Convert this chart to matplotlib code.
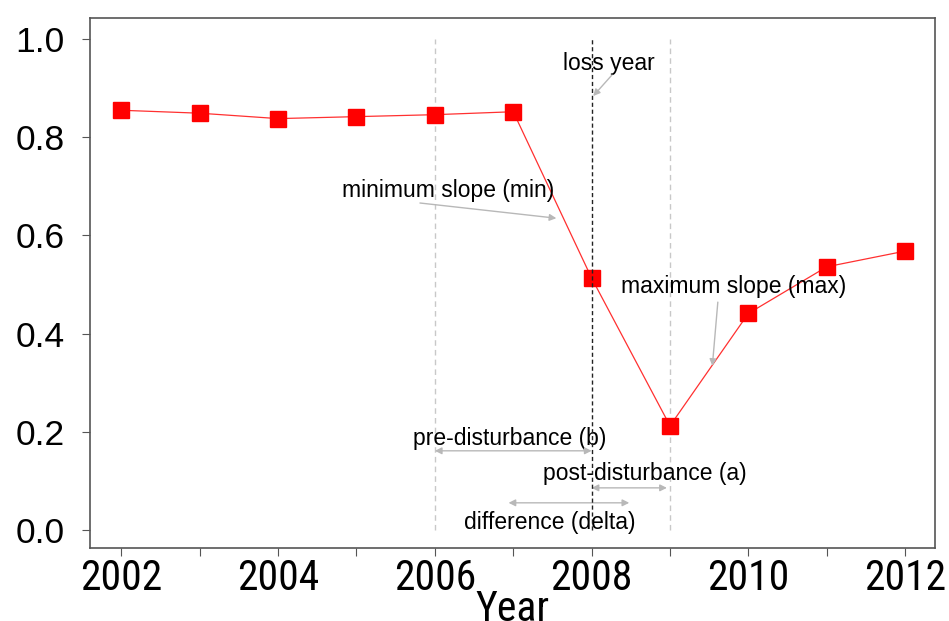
import matplotlib
matplotlib.use("Agg")
import matplotlib.pyplot as plt

years = [2002, 2003, 2004, 2005, 2006, 2007, 2008, 2009, 2010, 2011, 2012]
values = [0.855, 0.849, 0.838, 0.842, 0.846, 0.852, 0.513, 0.212, 0.441, 0.536, 0.568]
pre_year = 2006
loss_year = 2008
post_year = 2009
yticks = [0.0, 0.2, 0.4, 0.6, 0.8, 1.0]
xtick_labels = [2002, 2004, 2006, 2008, 2010, 2012]

narrow = ['Roboto Condensed', 'Liberation Sans', 'DejaVu Sans']
plt.rcParams['font.family'] = ['Liberation Sans', 'DejaVu Sans']

fig = plt.figure(figsize=(9.49, 6.21), dpi=100)
ax = fig.add_axes([0.0948, 0.1176, 0.8904, 0.8534])

ax.plot(years, values, color='#ff3030', lw=0.9, marker='s', ms=12,
        mfc='#ff0000', mec='#ff0000', zorder=3)

ax.vlines([pre_year, post_year], 0, 1, colors='#c8c8c8', linestyles=(0, (4, 3)), lw=1.0, zorder=1)
ax.vlines([loss_year], 0, 1, colors='#222222', linestyles=(0, (3, 2)), lw=1.0, zorder=4)

fs = 16.5
acol = '#b8b8b8'
aprops = dict(arrowstyle='-|>', color=acol, lw=1.0, mutation_scale=10, shrinkA=0, shrinkB=0)
dprops = dict(arrowstyle='<|-|>', color=acol, lw=1.0, mutation_scale=10, shrinkA=0, shrinkB=0)

ax.text(2008.22, 0.951, 'loss year', ha='center', va='center', fontsize=fs)
ax.annotate('', xy=(2008.02, 0.884), xytext=(2008.26, 0.927), arrowprops=aprops)

ax.text(2006.17, 0.692, 'minimum slope (min)', ha='center', va='center', fontsize=fs)
ax.annotate('', xy=(2007.55, 0.635), xytext=(2005.81, 0.666), arrowprops=aprops)

ax.text(2009.81, 0.495, 'maximum slope (max)', ha='center', va='center', fontsize=fs)
ax.annotate('', xy=(2009.54, 0.334), xytext=(2009.61, 0.464), arrowprops=aprops)

ax.text(2006.95, 0.187, 'pre-disturbance (b)', ha='center', va='center', fontsize=fs)
ax.annotate('', xy=(pre_year, 0.161), xytext=(loss_year, 0.161), arrowprops=dprops)

ax.text(2008.68, 0.114, 'post-disturbance (a)', ha='center', va='center', fontsize=fs)
ax.annotate('', xy=(loss_year, 0.0855), xytext=(2008.96, 0.0855), arrowprops=dprops)

ax.text(2007.46, 0.014, 'difference (delta)', ha='center', va='center', fontsize=fs)
ax.annotate('', xy=(2006.94, 0.055), xytext=(2008.48, 0.055), arrowprops=dprops)

ax.set_xlim(2001.6, 2012.38)
ax.set_ylim(-0.037, 1.043)
ax.set_xticks(years)
ax.set_xticklabels([str(y) if y in xtick_labels else '' for y in years],
                   fontfamily=narrow, fontsize=30)
ax.set_yticks(yticks)
ax.set_yticklabels([f'{v:.1f}' for v in yticks], fontsize=25.5)
ax.tick_params(axis='both', direction='out', length=6, width=0.8, color='#555555')
ax.tick_params(axis='x', pad=1)
ax.tick_params(axis='y', pad=12)
for s in ax.spines.values():
    s.set_color('#555555')
    s.set_linewidth(1.2)
ax.set_xlabel('Year', fontfamily=narrow, fontsize=30, labelpad=-7)

fig.savefig('out.png', dpi=100)
